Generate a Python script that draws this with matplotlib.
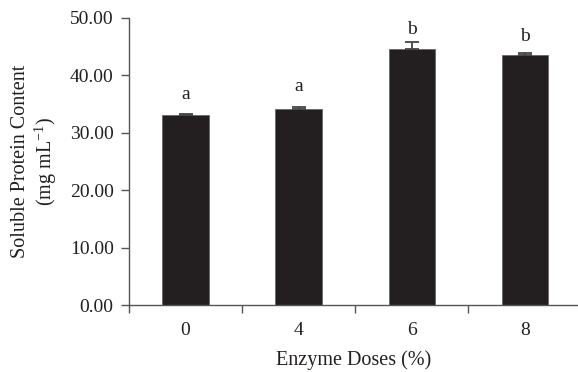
import matplotlib
matplotlib.use("Agg")
import matplotlib.pyplot as plt
import numpy as np

categories = ["0", "4", "6", "8"]
values = [33.05, 34.2, 44.65, 43.55]
errors = [0.2, 0.35, 1.2, 0.35]
letters = ["a", "a", "b", "b"]
letter_y = [35.9, 37.2, 47.2, 46.0]
yticks = [0, 10, 20, 30, 40, 50]

plt.rcParams['font.family'] = ['Liberation Serif', 'DejaVu Serif']
txt = '#231f20'
fs = 14
fig = plt.figure(figsize=(5.78, 3.72), dpi=100)
ax = fig.add_axes([129/578, 67/372, 1 - 129/578, (305-18)/372])

x = np.arange(len(categories))
ax.bar(x, values, width=0.41, color='#231f20', edgecolor='#666666', linewidth=0.6, zorder=2)
ax.errorbar(x, values, yerr=[np.zeros(len(errors)), errors], fmt='none',
            ecolor='#444444', elinewidth=1.3, capsize=5, capthick=1.3, zorder=3)
for xi, lt, ly in zip(x, letters, letter_y):
    ax.text(xi, ly, lt, ha='center', va='baseline', fontsize=fs, color=txt)

ax.set_xlim(-0.5, 3.47)
ax.set_ylim(0, 50)
ax.set_yticks(yticks)
ax.set_yticklabels([f"{v:.2f}" for v in yticks])
ax.set_xticks(np.arange(len(categories)) - 0.5)
ax.set_xticklabels([])
ax.set_xticks(x, minor=True)
ax.set_xticklabels(categories, minor=True)
ax.tick_params(axis='x', which='minor', length=0, pad=12, labelsize=fs, labelcolor=txt)
ax.tick_params(axis='x', which='major', length=6, width=1, color='#555555', direction='out')
ax.tick_params(axis='y', length=6, width=1, color='#555555', direction='out', pad=5,
               labelsize=fs, labelcolor=txt)
for s in ['top', 'right']:
    ax.spines[s].set_visible(False)
for s in ['left', 'bottom']:
    ax.spines[s].set_color('#555555')
    ax.spines[s].set_linewidth(1)

ax.set_ylabel("Soluble Protein Content\n(mg mL$^{\\mathregular{-1}}$)", fontsize=14.5, color=txt,
              linespacing=1.1, labelpad=8)
ax.set_xlabel("Enzyme Doses (%)", fontsize=14.5, color=txt, labelpad=8)

fig.savefig("out.png", dpi=100)
